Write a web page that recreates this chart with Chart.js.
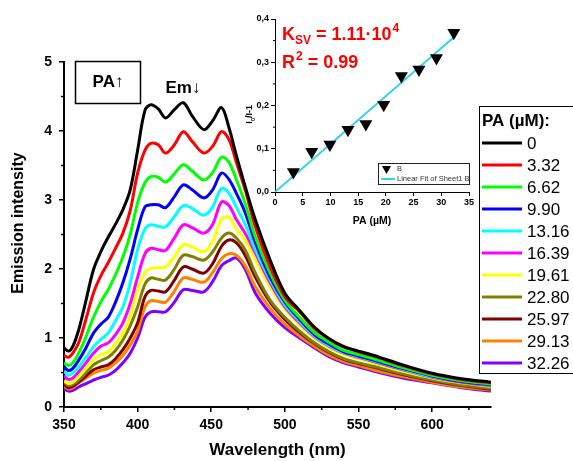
<!DOCTYPE html>
<html>
<head>
<meta charset="utf-8">
<script src="https://cdn.jsdelivr.net/npm/chart.js@4.4.1/dist/chart.umd.min.js"></script>
<style>
  html, body { margin: 0; padding: 0; background: #fff; }
  #wrap { position: relative; width: 573px; height: 461px; overflow: hidden; }
  #mainChart { position: absolute; left: 0; top: 0; }
  #insetChart { position: absolute; left: 228px; top: 4px; }
</style>
</head>
<body>
<div id="wrap">
  <canvas id="mainChart" width="573" height="461"></canvas>
  <canvas id="insetChart" width="250" height="226"></canvas>
</div>
<script>
// emission spectra
const wavelengths = [350, 353, 356, 360, 365, 370, 375, 380, 385, 390, 395, 400, 405, 409, 414, 419, 425, 431, 437, 445, 451, 457, 462, 467, 473, 480, 490, 500, 510, 520, 530, 540, 550, 560, 580, 600, 620, 640];
const paLabels = ['0', '3.32', '6.62', '9.90', '13.16', '16.39', '19.61', '22.80', '25.97', '29.13', '32.26'];

const em0    = [0.86, 0.81, 0.88, 1.12, 1.55, 1.99, 2.25, 2.46, 2.65, 2.86, 3.15, 3.72, 4.30, 4.38, 4.32, 4.19, 4.31, 4.41, 4.22, 4.02, 4.15, 4.34, 4.05, 3.65, 3.20, 2.71, 2.13, 1.65, 1.40, 1.16, 0.99, 0.87, 0.81, 0.75, 0.61, 0.49, 0.41, 0.36];
const em332  = [0.75, 0.72, 0.78, 0.93, 1.28, 1.65, 1.90, 2.09, 2.30, 2.52, 2.85, 3.39, 3.72, 3.82, 3.80, 3.68, 3.80, 3.99, 3.85, 3.68, 3.78, 3.99, 3.88, 3.55, 3.15, 2.61, 2.03, 1.60, 1.38, 1.14, 0.99, 0.88, 0.80, 0.74, 0.60, 0.48, 0.40, 0.35];
const em662  = [0.64, 0.60, 0.64, 0.78, 1.02, 1.30, 1.52, 1.70, 1.92, 2.17, 2.50, 2.96, 3.25, 3.34, 3.33, 3.26, 3.38, 3.51, 3.42, 3.29, 3.40, 3.62, 3.55, 3.30, 2.95, 2.46, 1.94, 1.55, 1.30, 1.08, 0.94, 0.82, 0.76, 0.70, 0.57, 0.46, 0.38, 0.33];
const em990  = [0.58, 0.53, 0.56, 0.68, 0.86, 1.07, 1.20, 1.30, 1.52, 1.80, 2.15, 2.57, 2.90, 2.93, 2.93, 2.89, 3.05, 3.22, 3.15, 3.03, 3.15, 3.39, 3.30, 3.10, 2.82, 2.38, 1.88, 1.52, 1.27, 1.05, 0.91, 0.80, 0.74, 0.68, 0.56, 0.45, 0.37, 0.32];
const em1316 = [0.52, 0.46, 0.49, 0.58, 0.72, 0.87, 0.98, 1.07, 1.25, 1.45, 1.80, 2.28, 2.58, 2.64, 2.62, 2.61, 2.76, 2.92, 2.88, 2.78, 2.90, 3.17, 3.10, 2.90, 2.65, 2.28, 1.84, 1.48, 1.24, 1.03, 0.89, 0.79, 0.73, 0.67, 0.55, 0.44, 0.37, 0.32];
const em1639 = [0.45, 0.40, 0.42, 0.51, 0.64, 0.78, 0.88, 0.93, 1.05, 1.22, 1.50, 1.88, 2.22, 2.30, 2.28, 2.27, 2.45, 2.64, 2.60, 2.52, 2.65, 2.97, 2.92, 2.72, 2.52, 2.23, 1.80, 1.45, 1.22, 1.02, 0.88, 0.78, 0.72, 0.66, 0.54, 0.43, 0.36, 0.31];
const em1961 = [0.38, 0.34, 0.36, 0.44, 0.56, 0.68, 0.76, 0.80, 0.92, 1.07, 1.32, 1.70, 1.95, 2.01, 2.02, 2.03, 2.18, 2.35, 2.32, 2.25, 2.40, 2.72, 2.75, 2.58, 2.42, 2.13, 1.74, 1.42, 1.19, 1.00, 0.86, 0.76, 0.70, 0.64, 0.52, 0.42, 0.35, 0.30];
const em2280 = [0.36, 0.31, 0.33, 0.39, 0.50, 0.61, 0.67, 0.72, 0.82, 0.97, 1.18, 1.45, 1.78, 1.87, 1.85, 1.84, 2.00, 2.20, 2.18, 2.13, 2.25, 2.45, 2.52, 2.45, 2.28, 1.94, 1.55, 1.30, 1.10, 0.93, 0.80, 0.70, 0.64, 0.59, 0.48, 0.39, 0.32, 0.27];
const em2597 = [0.33, 0.28, 0.30, 0.36, 0.45, 0.54, 0.58, 0.61, 0.70, 0.83, 1.00, 1.22, 1.60, 1.69, 1.68, 1.67, 1.84, 2.03, 2.00, 1.94, 2.08, 2.33, 2.42, 2.38, 2.20, 1.88, 1.52, 1.27, 1.08, 0.92, 0.79, 0.69, 0.63, 0.58, 0.47, 0.38, 0.31, 0.26];
const em2913 = [0.30, 0.26, 0.28, 0.35, 0.42, 0.49, 0.53, 0.56, 0.64, 0.75, 0.90, 1.10, 1.45, 1.54, 1.53, 1.52, 1.68, 1.87, 1.85, 1.81, 1.95, 2.15, 2.22, 2.20, 2.05, 1.74, 1.43, 1.20, 1.03, 0.88, 0.75, 0.66, 0.60, 0.54, 0.44, 0.36, 0.29, 0.25];
const em3226 = [0.27, 0.23, 0.24, 0.29, 0.34, 0.39, 0.43, 0.46, 0.53, 0.64, 0.78, 1.00, 1.30, 1.38, 1.38, 1.38, 1.52, 1.70, 1.69, 1.67, 1.82, 2.05, 2.12, 2.16, 2.00, 1.65, 1.36, 1.15, 1.00, 0.86, 0.73, 0.64, 0.58, 0.52, 0.42, 0.35, 0.28, 0.23];

// Stern-Volmer inset
const svConc  = [3.32, 6.62, 9.90, 13.16, 16.39, 19.61, 22.80, 25.97, 29.13, 32.26];
const svRatio = [0.046, 0.093, 0.110, 0.144, 0.157, 0.202, 0.268, 0.283, 0.310, 0.368];
const fitConc  = [0, 32.26];
const fitRatio = [0, 0.358];

const spectra = [em0, em332, em662, em990, em1316, em1639, em1961, em2280, em2597, em2913, em3226];
const lineColors = ['#000000', '#ff0000', '#00ff00', '#0000ff', '#00ffff', '#ff00ff', '#ffff00', '#808000', '#800000', '#ff8000', '#8000ff'];

const FONT = "'Liberation Sans', Arial, sans-serif";

function tick(ctx, x1, y1, x2, y2) {
  ctx.beginPath(); ctx.moveTo(x1, y1); ctx.lineTo(x2, y2); ctx.stroke();
}

// minor ticks, titles, boxes and the concentration legend
const mainExtras = {
  id: 'mainExtras',
  afterDraw(chart) {
    const { ctx, chartArea: a, scales: { x, y } } = chart;
    ctx.save();
    ctx.strokeStyle = '#000';
    ctx.lineWidth = 1.5;
    for (let v = 375; v < 640; v += 50) {
      const px = x.getPixelForValue(v);
      tick(ctx, px, a.bottom, px, a.bottom + 3);
    }
    for (let v = 0.5; v < 5; v += 1) {
      const py = y.getPixelForValue(v);
      tick(ctx, a.left, py, a.left - 3, py);
    }

    // y title
    ctx.fillStyle = '#000';
    ctx.font = 'bold 16px ' + FONT;
    ctx.textAlign = 'center';
    ctx.textBaseline = 'middle';
    ctx.translate(19, 223);
    ctx.rotate(-Math.PI / 2);
    ctx.fillText('Emission intensity', 0, 0);
    ctx.setTransform(1, 0, 0, 1, 0, 0);

    // PA box and Em label
    ctx.lineWidth = 1.5;
    ctx.strokeRect(75.5, 61.5, 65, 42);
    ctx.font = 'bold 17px ' + FONT;
    ctx.fillText('PA\u2191', 108, 82);
    ctx.fillText('Em\u2193', 183, 88);

    // legend
    ctx.fillStyle = '#fff';
    ctx.fillRect(479, 106, 100, 267);
    ctx.lineWidth = 1;
    ctx.strokeStyle = '#000';
    ctx.strokeRect(479.5, 106.5, 100, 267);
    ctx.fillStyle = '#000';
    ctx.textAlign = 'left';
    ctx.font = 'bold 17px ' + FONT;
    ctx.fillText('PA (\u00b5M):', 482, 121);
    ctx.font = '17px ' + FONT;
    chart.data.datasets.forEach((ds, i) => {
      const ly = 143 + i * 22;
      ctx.strokeStyle = ds.borderColor;
      ctx.lineWidth = 3;
      tick(ctx, 482, ly, 522, ly);
      ctx.fillText(ds.label, 527, ly + 1);
    });
    ctx.restore();
  }
};

new Chart(document.getElementById('mainChart'), {
  type: 'line',
  data: {
    datasets: spectra.map((s, i) => ({
      label: paLabels[i],
      data: wavelengths.map((w, j) => ({ x: w, y: s[j] })),
      borderColor: lineColors[i],
      borderWidth: 3,
      pointRadius: 0,
      tension: 0.35,
      fill: false
    }))
  },
  options: {
    responsive: false,
    animation: false,
    layout: { padding: { top: 62, right: 82, left: 0, bottom: 0 } },
    plugins: { legend: { display: false }, tooltip: { enabled: false } },
    scales: {
      x: {
        type: 'linear', min: 350, max: 640,
        ticks: { stepSize: 50, includeBounds: false, color: '#000', padding: 5, maxRotation: 0,
                 font: { family: FONT, size: 14, weight: 'bold' } },
        grid: { drawOnChartArea: false, tickLength: 5, color: '#000', lineWidth: 1.5 },
        border: { color: '#000', width: 2 },
        title: { display: true, text: 'Wavelength (nm)', color: '#000', padding: 0,
                 font: { family: FONT, size: 17, weight: 'bold' } },
        afterFit: s => { s.height = 54; }
      },
      y: {
        min: 0, max: 5,
        ticks: { stepSize: 1, color: '#000', padding: 7,
                 font: { family: FONT, size: 14, weight: 'bold' } },
        grid: { drawOnChartArea: false, tickLength: 5, color: '#000', lineWidth: 1.5 },
        border: { color: '#000', width: 2 },
        afterFit: s => { s.width = 64; }
      }
    }
  },
  plugins: [mainExtras]
});

// inset: Stern-Volmer plot
const insetExtras = {
  id: 'insetExtras',
  afterDraw(chart) {
    const { ctx, chartArea: a, scales: { y } } = chart;
    ctx.save();
    ctx.strokeStyle = '#000';
    ctx.lineWidth = 1;
    for (let v = 0.05; v < 0.4; v += 0.1) {
      const py = y.getPixelForValue(v);
      tick(ctx, a.left, py, a.left - 2, py);
    }

    // y title  I0/I-1
    ctx.fillStyle = '#000';
    ctx.translate(a.left - 25, (a.top + a.bottom) / 2 + 8);
    ctx.rotate(-Math.PI / 2);
    ctx.textBaseline = 'middle';
    ctx.textAlign = 'left';
    ctx.font = 'bold 9px ' + FONT;
    let w = ctx.measureText('I').width;
    const total = w + 5 + ctx.measureText('/I-1').width;
    let cx = -total / 2;
    ctx.fillText('I', cx, 0);
    cx += w;
    ctx.font = 'bold 6px ' + FONT;
    ctx.fillText('0', cx, 3);
    cx += ctx.measureText('0').width;
    ctx.font = 'bold 9px ' + FONT;
    ctx.fillText('/I-1', cx, 0);
    ctx.setTransform(1, 0, 0, 1, 0, 0);

    // K_SV and R^2
    ctx.fillStyle = '#ff0000';
    ctx.textBaseline = 'alphabetic';
    let tx = a.left + 7;
    ctx.font = 'bold 18px ' + FONT;
    ctx.fillText('K', tx, a.top + 21);
    tx += ctx.measureText('K').width;
    ctx.font = 'bold 12px ' + FONT;
    ctx.fillText('SV', tx, a.top + 25);
    tx += ctx.measureText('SV').width;
    ctx.font = 'bold 18px ' + FONT;
    ctx.fillText(' = 1.11\u00b710', tx, a.top + 21);
    tx += ctx.measureText(' = 1.11\u00b710').width;
    ctx.font = 'bold 12px ' + FONT;
    ctx.fillText('4', tx + 1, a.top + 13);

    tx = a.left + 7;
    ctx.font = 'bold 18px ' + FONT;
    ctx.fillText('R', tx, a.top + 49);
    tx += ctx.measureText('R').width;
    ctx.font = 'bold 12px ' + FONT;
    ctx.fillText('2', tx + 1, a.top + 41);
    tx += ctx.measureText('2').width + 1;
    ctx.font = 'bold 18px ' + FONT;
    ctx.fillText(' = 0.99', tx, a.top + 49);

    // small legend
    const lx = a.right - 91, ly = a.bottom - 29;
    ctx.fillStyle = '#fff';
    ctx.fillRect(lx, ly, 91, 21);
    ctx.strokeStyle = '#222';
    ctx.lineWidth = 1;
    ctx.strokeRect(lx + 0.5, ly + 0.5, 91, 21);
    ctx.fillStyle = '#000';
    ctx.beginPath();
    ctx.moveTo(lx + 4, ly + 3);
    ctx.lineTo(lx + 13, ly + 3);
    ctx.lineTo(lx + 8.5, ly + 11);
    ctx.closePath();
    ctx.fill();
    ctx.strokeStyle = chart.data.datasets[1].borderColor;
    ctx.lineWidth = 2;
    tick(ctx, lx + 3, ly + 16, lx + 17, ly + 16);
    ctx.fillStyle = '#333';
    ctx.font = '7.5px ' + FONT;
    ctx.textBaseline = 'middle';
    ctx.fillText(chart.data.datasets[0].label, lx + 19, ly + 6);
    ctx.fillText(chart.data.datasets[1].label, lx + 19, ly + 16);
    ctx.restore();
  }
};

new Chart(document.getElementById('insetChart'), {
  type: 'scatter',
  data: {
    datasets: [
      {
        label: 'B',
        data: svConc.map((c, i) => ({ x: c, y: svRatio[i] })),
        pointStyle: 'triangle',
        rotation: 180,
        pointRadius: 7.5,
        backgroundColor: '#000',
        borderColor: '#000',
        borderWidth: 0,
        showLine: false,
        clip: false
      },
      {
        label: 'Linear Fit of Sheet1 B',
        data: fitConc.map((c, i) => ({ x: c, y: fitRatio[i] })),
        showLine: true,
        borderColor: '#33d4ea',
        borderWidth: 2,
        pointRadius: 0
      }
    ]
  },
  options: {
    responsive: false,
    animation: false,
    layout: { padding: { top: 15, right: 9, left: 0, bottom: 0 } },
    plugins: { legend: { display: false }, tooltip: { enabled: false } },
    scales: {
      x: {
        type: 'linear', min: 0, max: 35,
        ticks: { stepSize: 5, color: '#000', padding: 1, maxRotation: 0,
                 font: { family: FONT, size: 9, weight: 'bold' } },
        grid: { drawOnChartArea: false, tickLength: 4, color: '#000', lineWidth: 1 },
        border: { color: '#000', width: 1 },
        title: { display: true, text: 'PA (\u00b5M)', color: '#000', padding: { top: 0, bottom: 3 },
                 font: { family: FONT, size: 10.5, weight: 'bold' } },
        afterFit: s => { s.height = 38; }
      },
      y: {
        min: 0, max: 0.4,
        ticks: { stepSize: 0.1, color: '#000', padding: 2,
                 font: { family: FONT, size: 9, weight: 'bold' },
                 callback: v => v.toFixed(1).replace('.', ',') },
        grid: { drawOnChartArea: false, tickLength: 4, color: '#000', lineWidth: 1 },
        border: { color: '#000', width: 1 },
        afterFit: s => { s.width = 47; }
      }
    }
  },
  plugins: [insetExtras]
});
</script>
</body>
</html>
